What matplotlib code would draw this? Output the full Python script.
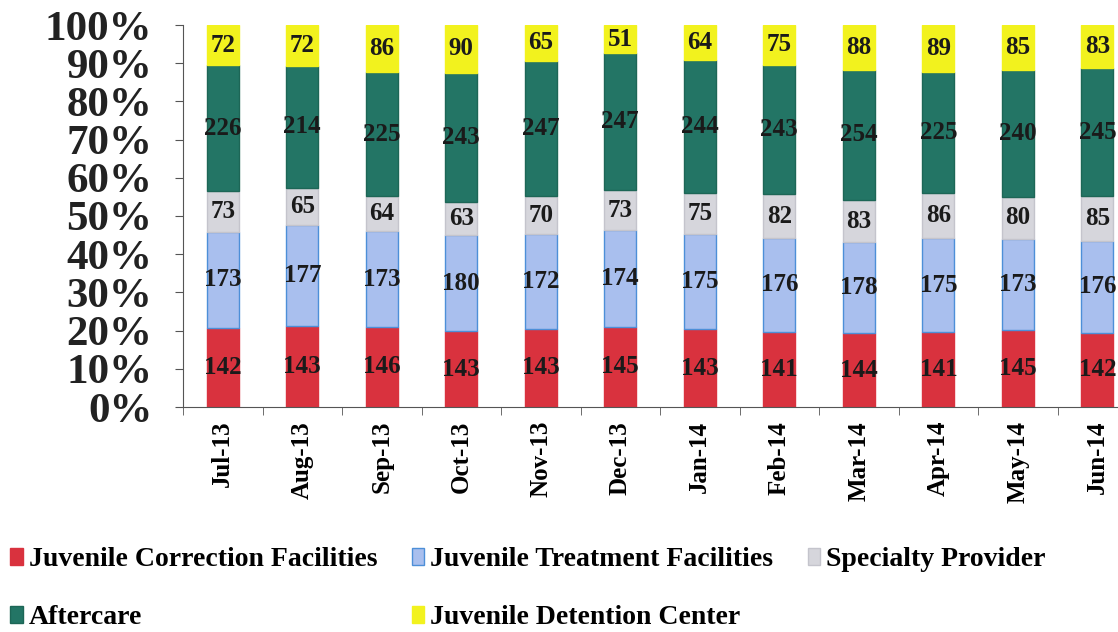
import numpy as np
import matplotlib.pyplot as plt
from matplotlib.ticker import FixedLocator

months = ['Jul-13', 'Aug-13', 'Sep-13', 'Oct-13', 'Nov-13', 'Dec-13',
          'Jan-14', 'Feb-14', 'Mar-14', 'Apr-14', 'May-14', 'Jun-14']
correction = [142, 143, 146, 143, 143, 145, 143, 141, 144, 141, 145, 142]
treatment = [173, 177, 173, 180, 172, 174, 175, 176, 178, 175, 173, 176]
specialty = [73, 65, 64, 63, 70, 73, 75, 82, 83, 86, 80, 85]
aftercare = [226, 214, 225, 243, 247, 247, 244, 243, 254, 225, 240, 245]
detention = [72, 72, 86, 90, 65, 51, 64, 75, 88, 89, 85, 83]

names = ['Juvenile Correction Facilities', 'Juvenile Treatment Facilities',
         'Specialty Provider', 'Aftercare', 'Juvenile Detention Center']
colors = ['#d9323e', '#a9bfee', '#d6d6dc', '#237565', '#f2f21e']
edges = ['#d9323e', '#4d8fd8', '#c4c4cc', '#1d6656', '#f2f21e']

plt.rcParams['font.family'] = ['Liberation Serif', 'DejaVu Serif']
plt.rcParams['font.weight'] = 'bold'

fig = plt.figure(figsize=(11.18, 6.32), dpi=100)
ax = fig.add_axes([183 / 1118, 225 / 632, 935 / 1118, 382 / 632])

series = [correction, treatment, specialty, aftercare, detention]
data = np.array(series, dtype=float)
totals = data.sum(axis=0)
pct = data / totals * 100
x = np.arange(len(months))
bottom = np.zeros(len(months))
for i in range(len(series)):
    ax.bar(x, pct[i], 0.4, bottom=bottom, color=colors[i], edgecolor=edges[i],
           linewidth=1, label=names[i])
    for j in range(len(months)):
        ax.text(x[j], bottom[j] + pct[i][j] / 2, str(series[i][j]),
                ha='center', va='center', fontsize=18, fontweight='bold',
                color='#1a1a1a')
    bottom = bottom + pct[i]

ax.set_ylim(0, 100)
ax.set_xlim(-0.5, 11.26)
ax.set_yticks(np.arange(0, 101, 10))
ax.set_yticklabels([f'{v}%' for v in range(0, 101, 10)], fontsize=31,
                   fontweight='bold', color='#222222')
ax.set_xticks(x)
ax.set_xticklabels(months, rotation=90, fontsize=18, fontweight='bold')
ax.tick_params(axis='x', which='major', length=0, pad=10)
ax.xaxis.set_minor_locator(FixedLocator(np.arange(-0.5, 12, 1)))
ax.tick_params(axis='x', which='minor', length=6, direction='out', color='#555555')
ax.tick_params(axis='y', length=6, color='#555555', pad=16)
for s in ['top', 'right']:
    ax.spines[s].set_visible(False)
ax.spines['left'].set_color('#555555')
ax.spines['bottom'].set_color('#555555')

# row-major order for a 3-column legend
handles, labels = ax.get_legend_handles_labels()
order = [0, 3, 1, 4, 2]
fig.legend([handles[k] for k in order], [labels[k] for k in order],
           loc='lower left', bbox_to_anchor=(-0.013, -0.037),
           ncol=3, frameon=False, handlelength=0.45,
           handleheight=0.55, handletextpad=0.2, columnspacing=1.25,
           labelspacing=1.2, prop={'weight': 'bold', 'size': 20})

fig.savefig('out.png', dpi=100)
